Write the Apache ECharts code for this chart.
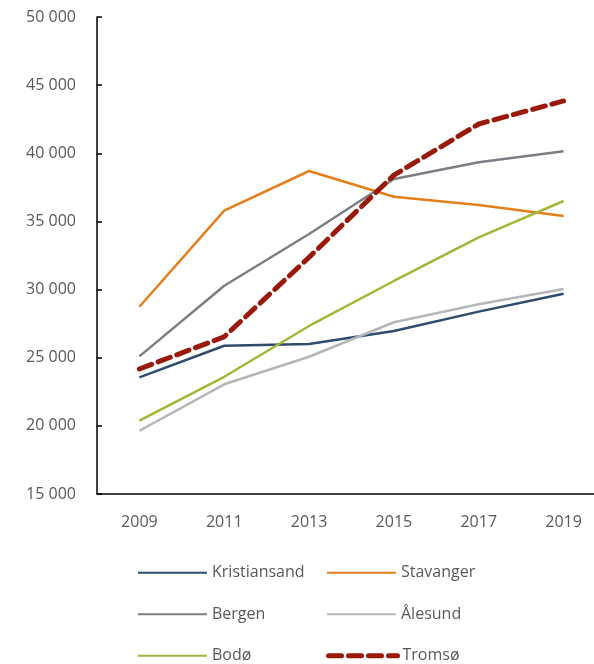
<!DOCTYPE html>
<html>
<head>
<meta charset="utf-8">
<script src="https://cdn.jsdelivr.net/npm/echarts@6/dist/echarts.min.js"></script>
<style>
  html, body { margin: 0; padding: 0; background: #fff; }
  #chart { width: 594px; height: 664px; }
</style>
</head>
<body>
<div id="chart"></div>
<script>
// år og verdier lest av figuren
var years = ['2009', '2011', '2013', '2015', '2017', '2019'];

var kristiansand = [23560, 25880, 26000, 26960, 28380, 29700];
var stavanger    = [28740, 35790, 38700, 36810, 36200, 35400];
var bergen       = [25100, 30280, 34080, 38110, 39340, 40150];
var alesund      = [19640, 23050, 25070, 27600, 28920, 30040];
var bodo         = [20380, 23600, 27330, 30630, 33830, 36500];
var tromso       = [24170, 26540, 32370, 38400, 42150, 43840];

var yMin = 15000, yMax = 50000, yStep = 5000;

var fontFam = '"Open Sans", "Noto Sans", sans-serif';

function line(name, data, color, width, dashed) {
    return {
        name: name,
        type: 'line',
        data: data,
        symbol: 'none',
        showSymbol: false,
        lineStyle: {
            color: color,
            width: width,
            type: dashed ? [13, 7] : 'solid',
            cap: dashed ? 'round' : 'butt'
        },
        itemStyle: { color: color },
        z: dashed ? 5 : 2
    };
}

var myChart = echarts.init(document.getElementById('chart'));
var option = {
    animation: false,
    backgroundColor: '#fff',
    grid: {
        left: 97,
        width: 509,   // plottet fortsetter litt forbi høyre kant, som i originalen
        top: 17,
        bottom: 170,
        outerBoundsMode: 'none',
        containLabel: false
    },
    xAxis: {
        type: 'category',
        data: years,
        boundaryGap: true,
        axisLine: { lineStyle: { color: '#000', width: 1.5 } },
        axisTick: { show: false },
        axisLabel: {
            color: '#595959',
            fontSize: 16,
            fontFamily: fontFam,
            margin: 20
        }
    },
    yAxis: {
        type: 'value',
        min: yMin,
        max: yMax,
        interval: yStep,
        splitLine: { show: false },
        axisLine: { show: true, lineStyle: { color: '#000', width: 1.5 } },
        axisTick: { show: true, inside: true, length: 5, lineStyle: { color: '#000', width: 1.5 } },
        axisLabel: {
            color: '#595959',
            fontSize: 16,
            fontFamily: fontFam,
            margin: 21,
            formatter: function (v) {
                return String(v).replace(/\B(?=(\d{3})+(?!\d))/g, ' ');
            }
        }
    },
    legend: {
        left: 137,
        top: 556,
        width: 400,
        padding: 0,
        itemWidth: 69,
        itemHeight: 10,
        itemGap: 8,
        itemStyle: { opacity: 0 },
        textStyle: {
            color: '#595959',
            fontSize: 16,
            fontFamily: fontFam,
            width: 106,
            lineHeight: 33.5
        },
        data: ['Kristiansand', 'Stavanger', 'Bergen', 'Ålesund', 'Bodø',
            { name: 'Tromsø', lineStyle: { width: 5 } }]
    },
    series: [
        line('Kristiansand', kristiansand, '#2F4B6E', 2.5, false),
        line('Stavanger', stavanger, '#E3801C', 2.5, false),
        line('Bergen', bergen, '#7B7F85', 2.5, false),
        line('Ålesund', alesund, '#B4B7BA', 2.5, false),
        line('Bodø', bodo, '#A3B73A', 2.5, false),
        line('Tromsø', tromso, '#991A0A', 5, true)
    ]
};
myChart.setOption(option);
</script>
</body>
</html>
